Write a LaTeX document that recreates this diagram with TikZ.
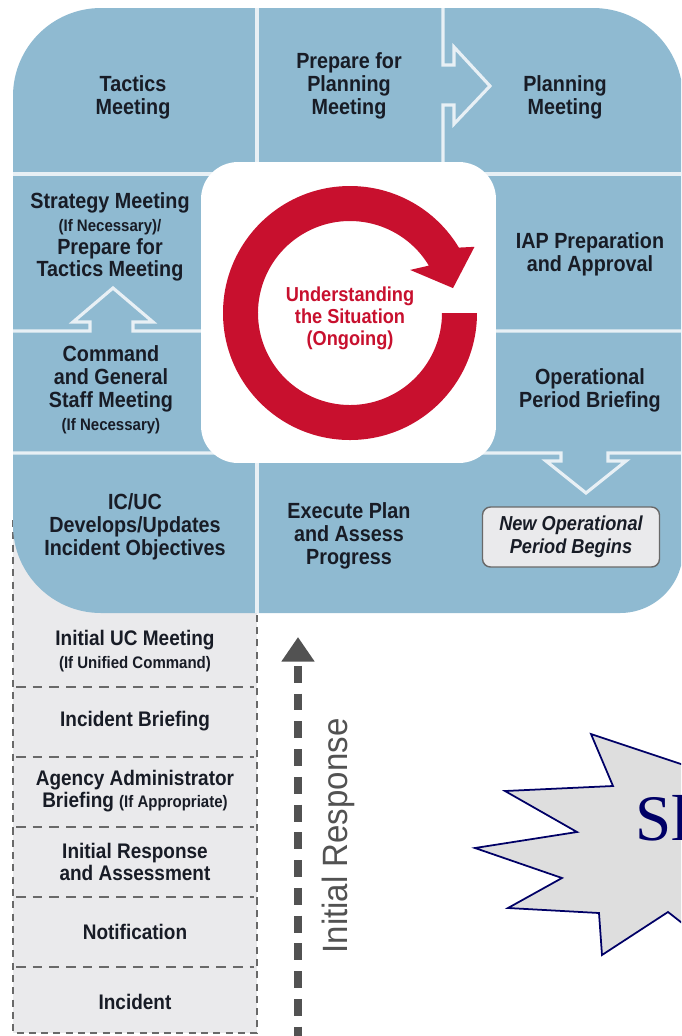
\documentclass[tikz,border=0pt]{standalone}
\usepackage{fontspec}
\newfontfamily\lbl{Liberation Sans}[FakeStretch=0.9]
\newfontfamily\irfont{Liberation Sans}[FakeStretch=0.94]
\newfontfamily\serf{Liberation Serif}
\usetikzlibrary{arrows.meta}
\definecolor{panel}{RGB}{143,186,209}
\definecolor{gridc}{RGB}{232,240,245}
\definecolor{ink}{RGB}{24,28,38}
\definecolor{cyclered}{RGB}{200,16,46}
\definecolor{paper}{RGB}{234,234,236}
\definecolor{dashc}{RGB}{105,105,105}
\definecolor{irgrey}{RGB}{82,82,82}
\definecolor{burst}{RGB}{222,222,222}
\definecolor{navy}{RGB}{0,0,102}
\newcommand{\sm}[1]{{\fontsize{9.5}{10}\selectfont #1}}
\tikzset{
  cell/.style={text=ink, align=center, font=\lbl\bfseries\fontsize{12.5}{13}\selectfont},
  slot/.style={cell, font=\lbl\bfseries\fontsize{12}{12.8}\selectfont},
  gridline/.style={draw=gridc, line width=1.8pt},
  cutline/.style={draw=dashc, line width=0.8pt, dash pattern=on 5.5pt off 4pt},
  edgeline/.style={draw=dashc, line width=0.6pt, dash pattern=on 4pt off 3pt},
  irline/.style={draw=irgrey, line width=4.5pt, dash pattern=on 9.6pt off 6.2pt, dash phase=12.5pt, {Triangle[length=14pt,width=18pt]}-}
}
\begin{document}
\begin{tikzpicture}[x=0.02cm,y=-0.02cm]
  \useasboundingbox (0,0) rectangle (681,1036);
  \clip (0,0) rectangle (681,1036);
  \fill[paper] (13,520) rectangle (257,1033);
  \draw[edgeline] (13,520) -- (13,1033) -- (257,1033) -- (257,613);
  \foreach \y in {687,757,827,897,967}
    \draw[cutline] (16,\y) -- (254,\y);
  \fill[panel] (13,96) arc[start angle=180,end angle=270,radius=88] -- (593,8)
    arc[start angle=270,end angle=360,radius=90] -- (683,550)
    arc[start angle=0,end angle=90,radius=63] -- (101,613)
    arc[start angle=90,end angle=180,radius=88] -- cycle;
  \draw[gridline] (257,8) -- (257,174) (13,174) -- (683,174) (257,453) -- (257,613);
  \draw[gridline] (443,8) -- (443,65) -- (454,65) -- (454,47) -- (490,86) -- (454,124) -- (454,105) -- (443,105) -- (443,174);
  \draw[gridline] (13,331) -- (90,331) -- (90,322) -- (73,322) -- (113,288) -- (153,322) -- (133,322) -- (133,331) -- (683,331);
  \draw[gridline] (13,453) -- (561,453) -- (561,461) -- (546,461) -- (586,493) -- (626,461) -- (608,461) -- (608,453) -- (683,453);
  \node[fill=white, rounded corners=0.74cm, minimum width=5.9cm, minimum height=6.02cm] (hub) at (348.5,312.5) {};
  \fill[cyclered, shift={(350,313)}] (0:127) arc[start angle=0,end angle=329,radius=127]
    -- (332:141) -- (346.4:106) -- (324.4:74) -- (329:92)
    arc[start angle=329,end angle=0,radius=92] -- cycle;
  \node[cell, text=cyclered, font=\lbl\bfseries\fontsize{11.5}{12.5}\selectfont] (situation) at (350,318) {Understanding\\the Situation\\(Ongoing)};

  \node[cell] (tactics) at (133,97) {Tactics\\Meeting};
  \node[cell] (prepplan) at (349,86) {Prepare for\\Planning\\Meeting};
  \node[cell] (planning) at (565,97) {Planning\\Meeting};
  \node[cell] (strategy) at (110,237) {Strategy Meeting\\\sm{(If Necessary)/}\\Prepare for\\Tactics Meeting};
  \node[cell] (iap) at (590,254) {IAP Preparation\\and Approval};
  \node[cell] (cgs) at (111,390) {Command\\and General\\Staff Meeting\\\sm{(If Necessary)}};
  \node[cell] (opbrief) at (590,390) {Operational\\Period Briefing};
  \node[cell] (icuc) at (135,527) {IC/UC\\Develops/Updates\\Incident Objectives};
  \node[cell] (execute) at (349,536) {Execute Plan\\and Assess\\Progress};
  \node[cell, font=\lbl\bfseries\itshape\fontsize{11.5}{13}\selectfont, fill=paper, draw=dashc, line width=0.8pt, rounded corners=0.16cm, minimum width=3.54cm, minimum height=1.2cm, inner sep=0pt] (newop) at (571,537) {New Operational\\Period Begins};

  \node[slot] (ucmeet) at (135,651) {Initial UC Meeting\\\sm{(If Unified Command)}};
  \node[slot] (ibrief) at (135,721) {Incident Briefing};
  \node[slot] (agency) at (135,791) {Agency Administrator\\Briefing \sm{(If Appropriate)}};
  \node[slot] (assess) at (135,862) {Initial Response\\and Assessment};
  \node[slot] (notify) at (135,932) {Notification};
  \node[slot] (incident) at (135,1002) {Incident};

  \coordinate (irtip) at (298,637);
  \coordinate (irfoot) at (298,1040);
  \draw[irline] (irtip) -- (irfoot);
  \node[rotate=90, text=irgrey, font=\irfont\fontsize{20}{20}\selectfont] (irlabel) at (338,836) {Initial Response};

  \filldraw[fill=burst, draw=navy, line width=1pt] (591,734) -- (613,786) -- (505,791) -- (577,832) -- (475,848) -- (562,878) -- (508,908) -- (599,913) -- (602,955) -- (668,912) -- (700,937) -- (760,860) -- (720,777) -- cycle;
  \node[anchor=base west, text=navy, font=\serf\fontsize{37}{37}\selectfont, inner sep=0pt] (slide) at (635,840) {Sl};
\end{tikzpicture}
\end{document}
